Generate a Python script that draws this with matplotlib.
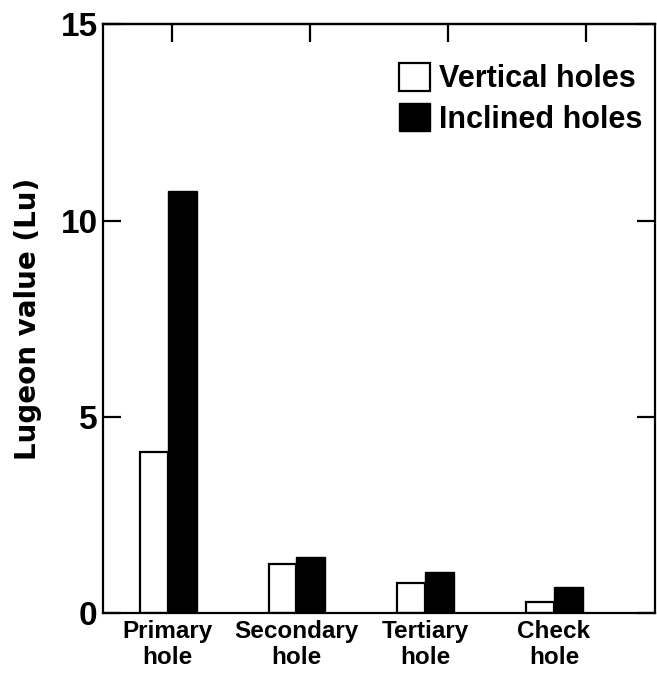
import numpy as np
import matplotlib
matplotlib.use("Agg")
import matplotlib.pyplot as plt
from matplotlib.patches import Patch

plt.rcParams['font.family'] = ['Liberation Sans', 'DejaVu Sans']
plt.rcParams['font.weight'] = 'bold'

categories = ['Primary\nhole', 'Secondary\nhole', 'Tertiary\nhole', 'Check\nhole']
vertical = [4.1, 1.25, 0.76, 0.29]
inclined = [10.75, 1.44, 1.05, 0.67]

fig = plt.figure(figsize=(6.57, 6.73), dpi=100)
ax = fig.add_axes([0.157, 0.089, 0.840, 0.875])

x = np.arange(len(categories))
w = 0.215
ax.bar(x - w / 2, vertical, width=w, color='white', edgecolor='black', linewidth=1.6)
ax.bar(x + w / 2 + 0.005, inclined, width=w + 0.01, color='black', edgecolor='black', linewidth=1.0)

xmin, xmax = -0.5, 3.785
ax.set_xlim(xmin, xmax)
ax.set_ylim(0, 15)

ax.set_xticks(x)
ax.set_xticklabels(categories, fontsize=17.5, fontweight='bold', linespacing=1.15)
ax.tick_params(axis='x', length=0, pad=5)

ax.set_yticks([0, 5, 10, 15])
ax.set_yticklabels(['0', '5', '10', '15'], fontsize=24, fontweight='bold')
ax.tick_params(axis='y', direction='in', length=13, width=1.6, pad=4,
               right=True)

# top ticks split the frame into four equal parts
step = (xmax - xmin) / 4
top = ax.secondary_xaxis('top')
top.set_xticks(xmin + step * (np.arange(4) + 0.5))
top.set_xticklabels([])
top.tick_params(direction='in', length=13, width=1.6)

for s in ax.spines.values():
    s.set_linewidth(1.6)
top.spines['top'].set_linewidth(1.6)

ax.set_ylabel('Lugeon value (Lu)', fontsize=20, fontweight='bold', family='DejaVu Sans')
ax.yaxis.set_label_coords(-0.111, 0.5)

handles = [Patch(facecolor='white', edgecolor='black', linewidth=1.6, label='Vertical holes'),
           Patch(facecolor='black', edgecolor='black', label='Inclined holes')]
ax.legend(handles=handles, loc='upper right', frameon=False, fontsize=22,
          handlelength=1.0, handleheight=1.0, handletextpad=0.3,
          labelspacing=0.3, borderaxespad=0.2, bbox_to_anchor=(1.01, 0.965))

fig.savefig('out.png', dpi=100)
